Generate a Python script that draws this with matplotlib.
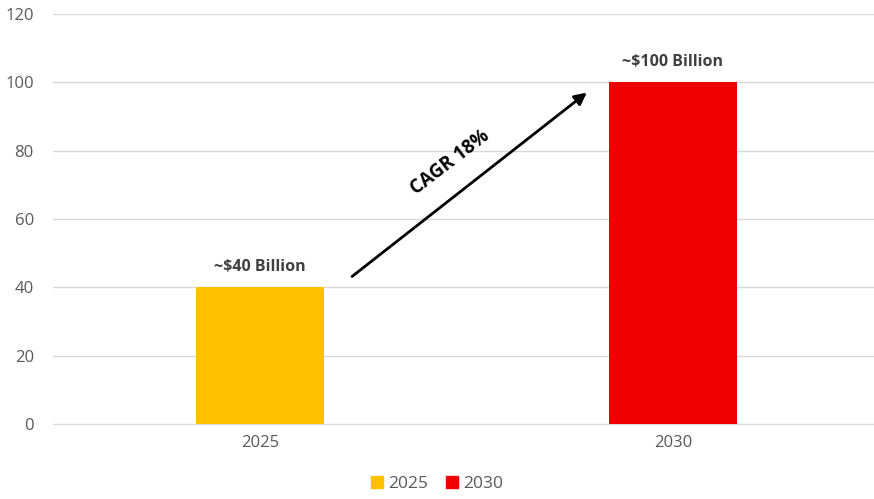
import matplotlib.pyplot as plt
from matplotlib.patches import Patch

years = ['2025', '2030']
values = [40, 100]
labels = ['~$40 Billion', '~$100 Billion']
colors = ['#FFC000', '#EE0000']
yticks = [0, 20, 40, 60, 80, 100, 120]

plt.rcParams['font.family'] = ['Open Sans', 'DejaVu Sans']

fig = plt.figure(figsize=(8.74, 4.99), dpi=100)
ax = fig.add_axes([0.061, 0.150, 0.939, 0.822])

x = list(range(len(years)))
ax.bar(x, values, width=0.31, color=colors, zorder=3)
for xi, v, lab in zip(x, values, labels):
    ax.text(xi, v + 3.5, lab, ha='center', va='bottom', fontsize=11.5,
            fontweight='bold', color='#404040')

ax.set_xlim(-0.5, 1.487)
ax.set_ylim(0, 120)
ax.set_yticks(yticks)
ax.set_xticks(x)
ax.set_xticklabels(years)
ax.tick_params(axis='both', length=0, labelsize=12, labelcolor='#595959')
ax.tick_params(axis='y', pad=14)
ax.tick_params(axis='x', pad=8)
ax.grid(axis='y', color='#D9D9D9', linewidth=1, zorder=0)
for s in ['top', 'right', 'left']:
    ax.spines[s].set_visible(False)
ax.spines['bottom'].set_color('#D9D9D9')

# CAGR arrow
ax.annotate('', xy=(0.797, 97.5), xytext=(0.218, 42.7),
            arrowprops=dict(arrowstyle='-|>', color='black', lw=2,
                            mutation_scale=18), zorder=4)
ax.text(0.46, 76.5, 'CAGR 18%', rotation=37.5, ha='center', va='center',
        fontsize=13.5, fontweight='bold', color='black')

handles = [Patch(color=c) for c in colors]
fig.legend(handles, years, loc='lower center', ncol=2, frameon=False,
           fontsize=12.5, labelcolor='#595959', handlelength=0.7,
           handleheight=0.7, handletextpad=0.3, columnspacing=1.0,
           bbox_to_anchor=(0.5, -0.018))

fig.savefig('out.png', dpi=100)
